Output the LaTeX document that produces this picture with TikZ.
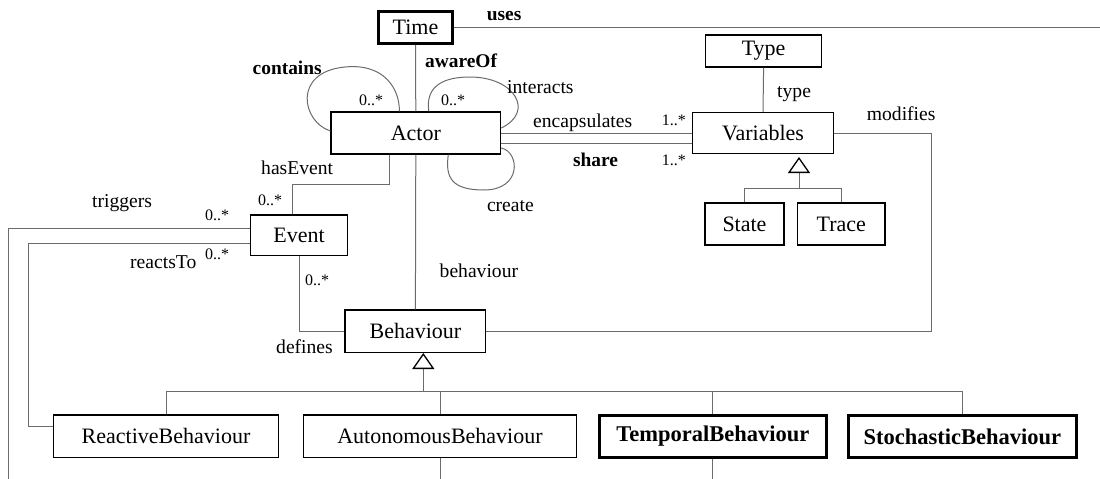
\documentclass[tikz,border=0pt]{standalone}
\usepackage{fontspec}
\setmainfont{Liberation Serif}
\usetikzlibrary{arrows.meta}
\begin{document}
\begin{tikzpicture}[x=1pt,y=-1pt,
  cls/.style={draw=black, line width=1.3pt, inner sep=0pt, font=\fontsize{22}{26}\selectfont},
  clsthick/.style={cls, line width=3pt},
  clsbold/.style={cls, line width=3pt, font=\fontsize{22.5}{26}\selectfont\bfseries},
  assoc/.style={draw=black!58, line width=1pt},
  gen/.style={assoc, -{Triangle[open, length=16pt, width=22pt, line width=1.3pt, color=black]}},
  lbl/.style={anchor=base west, inner sep=0pt, font=\fontsize{19.6}{22}\selectfont},
  blbl/.style={lbl, font=\fontsize{19.4}{22}\selectfont\bfseries},
  mult/.style={anchor=base west, inner sep=0pt, font=\fontsize{16}{18}\selectfont},
]
\useasboundingbox (0,0) rectangle (1100,479);

% classes
\node[clsthick, minimum width=74pt, minimum height=31.6pt] (time) at (415.5,27.5) {Time};
\node[cls, minimum width=169.5pt, minimum height=42pt] (actor) at (415.8,133) {Actor};
\node[cls, minimum width=116.4pt, minimum height=32pt] (type) at (763.6,51) {Type};
\node[cls, minimum width=140.6pt, minimum height=41pt] (vars) at (763,133) {Variables};
\node[cls, minimum width=79pt, minimum height=42pt] (state) at (744.5,224) {State};
\node[cls, minimum width=87.3pt, minimum height=42pt] (trace) at (841.3,224) {Trace};
\node[cls, minimum width=96.4pt, minimum height=40.7pt] (event) at (299,235.3) {Event};
\node[cls, minimum width=140.7pt, minimum height=42.3pt] (beh) at (415.4,331.2) {Behaviour};
\node[cls, minimum width=225.5pt, minimum height=42.3pt] (rb) at (166,436.2) {ReactiveBehaviour};
\node[cls, minimum width=273.3pt, minimum height=42.3pt] (ab) at (440,436.2) {AutonomousBehaviour};
\node[clsbold, minimum width=227.3pt, minimum height=42.3pt] (tb) at (712.8,436.5) {TemporalBehaviour};
\node[clsbold, minimum width=227.3pt, minimum height=42.3pt] (sb) at (962.4,436.5) {StochasticBehaviour};

% routing points
\coordinate (usesend) at (1100,28.3);
\coordinate (bottom) at (0,479);
\coordinate (hasj) at (389,184);
\coordinate (hasj2) at (292.3,184);
\coordinate (trigx) at (8.5,479);
\coordinate (reactx) at (28.3,300);
\coordinate (modx) at (931.7,250);
\coordinate (vjoin) at (799,188.3);
\coordinate (vapex) at (799,157);
\coordinate (bjoin) at (423.3,391.7);

% associations
\draw[assoc] (time.east) -- (usesend |- time.east);
\draw[assoc] (time.south) -- (actor.north);
\draw[assoc] (actor.south) -- (beh.north);
\draw[assoc] (actor.east) -- (vars.west);
\draw[assoc] ([yshift=-10.3pt]actor.east) -- ([yshift=-10.3pt]vars.west);
\draw[assoc] (type.south) -- (vars.north);
\draw[assoc] (vars.east) -| (modx) |- (beh.east);
\draw[assoc] (actor.south -| hasj) -- (hasj) -- (hasj2) -- (event.north -| hasj2);
\draw[assoc] ([yshift=7pt]event.west) -| (trigx);
\draw[assoc] ([yshift=-8pt]event.west) -| (reactx) |- ([yshift=10pt]rb.west);
\draw[assoc] (event.south) |- (beh.west);
\draw[assoc] (ab.south) -- (ab.south |- bottom);
\draw[assoc] (tb.south) -- (tb.south |- bottom);

% self associations of Actor
\draw[assoc] ([yshift=2pt]actor.west) .. controls (302,122) and (292,72) .. (345,67)
  .. controls (385,63) and (400,90) .. ([xshift=-16.5pt]actor.north);
\draw[assoc] ([xshift=13pt]actor.north) .. controls (425,85) and (445,77) .. (470,77)
  .. controls (515,77) and (535,112) .. ([yshift=5pt]actor.east);
\draw[assoc] ([yshift=-15pt]actor.east) .. controls (520,152) and (522,190) .. (484,190)
  .. controls (452,190) and (445,178) .. ([xshift=32.5pt]actor.south);

% generalisations
\draw[assoc] (state.north) |- (vjoin) -| (trace.north);
\draw[gen] (vjoin) -- (vapex);
\draw[assoc] (rb.north) |- (bjoin) -| (sb.north);
\draw[assoc] (ab.north) -- (ab.north |- bjoin);
\draw[assoc] (tb.north) -- (tb.north |- bjoin);
\draw[gen] (bjoin) -- (bjoin |- beh.south);

% role names and multiplicities
\node[blbl] (l-uses) at (486.7,20.7) {uses};
\node[blbl] (l-aware) at (425,67) {awareOf};
\node[blbl] (l-contains) at (252.5,74.5) {contains};
\node[mult] (m-contains) at (359,105.7) {0..*};
\node[mult] (m-interacts) at (441,105.7) {0..*};
\node[lbl] (l-interacts) at (507,93) {interacts};
\node[lbl] (l-encaps) at (533,127.5) {encapsulates};
\node[mult] (m-encaps) at (661.7,125) {1..*};
\node[blbl] (l-share) at (572.8,166.5) {share};
\node[mult] (m-share) at (661.7,165) {1..*};
\node[lbl] (l-type) at (777,97) {type};
\node[lbl] (l-modifies) at (866.7,120) {modifies};
\node[lbl] (l-hasevent) at (261,174) {hasEvent};
\node[mult] (m-hasevent) at (258,205) {0..*};
\node[lbl] (l-create) at (486.8,211.7) {create};
\node[lbl] (l-triggers) at (92,207) {triggers};
\node[mult] (m-triggers) at (205,220) {0..*};
\node[lbl] (l-reacts) at (130,268) {reactsTo};
\node[mult] (m-reacts) at (205,259) {0..*};
\node[mult] (m-defines) at (305,285) {0..*};
\node[lbl] (l-behaviour) at (439.5,277.7) {behaviour};
\node[lbl] (l-defines) at (276,353.3) {defines};
\end{tikzpicture}
\end{document}
